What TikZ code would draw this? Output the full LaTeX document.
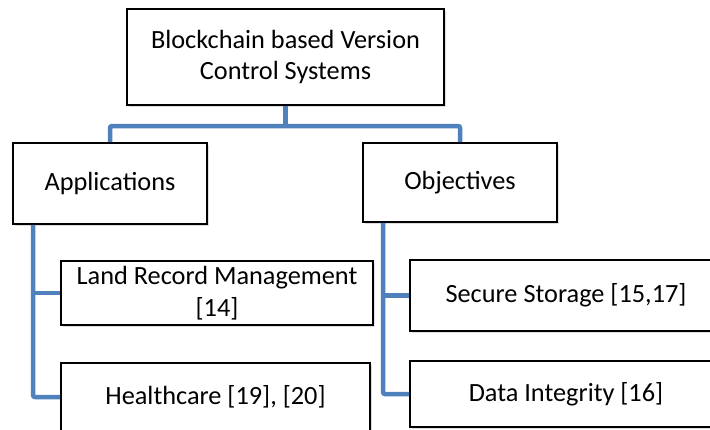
\documentclass[tikz,border=0pt]{standalone}
\usepackage{fontspec}
\setmainfont{Carlito}
\usetikzlibrary{shadows}
\definecolor{connblue}{HTML}{4F81BD}
\begin{document}
\begin{tikzpicture}[x=1pt,y=-1pt,
  box/.style={draw=black,line width=1.6pt,fill=white,align=center,inner sep=0pt,
    font=\fontsize{26.3}{31.5}\selectfont,
    drop shadow={opacity=0.25,shadow xshift=1.5pt,shadow yshift=-2pt}},
  conn/.style={draw=connblue,line width=4.5pt,rounded corners=2pt}]
\useasboundingbox (0,0) rectangle (710,429);
\clip (0,0) rectangle (710,429);
\fill[white] (0,0) rectangle (710,429);
% boxes
\node[box,minimum width=317pt,minimum height=96pt] (top) at (285.5,57) {Blockchain based Version\\Control Systems};
\node[box,minimum width=194pt,minimum height=81pt] (app) at (110,183.5) {Applications};
\node[box,minimum width=194pt,minimum height=79pt] (obj) at (460,182.5) {Objectives};
\node[box,minimum width=312pt,minimum height=64pt] (land) at (217,293) {Land Record Management\\{[14]}};
\node[box,minimum width=309pt,minimum height=68pt] (hc) at (215.5,397) {Healthcare [19], [20]};
\node[box,minimum width=312pt,minimum height=71pt] (sec) at (566,295.5) {Secure Storage [15,17]};
\node[box,minimum width=312pt,minimum height=66pt] (data) at (566,394) {Data Integrity [16]};
% connectors
\coordinate (bar) at (285.5,126);
\coordinate (lx) at (33,0);
\coordinate (rx) at (383,0);
\begin{scope}[on background layer/.try]
\end{scope}
\draw[conn] (top.south) -- (top.south |- bar);
\draw[conn] (app.north) |- (bar) -| (obj.north);
\draw[conn] (app.south -| lx) |- (hc.west);
\draw[conn] (lx |- land.west) -- (land.west);
\draw[conn] (obj.south -| rx) |- (data.west);
\draw[conn] (rx |- sec.west) -- (sec.west);
\end{tikzpicture}
\end{document}
